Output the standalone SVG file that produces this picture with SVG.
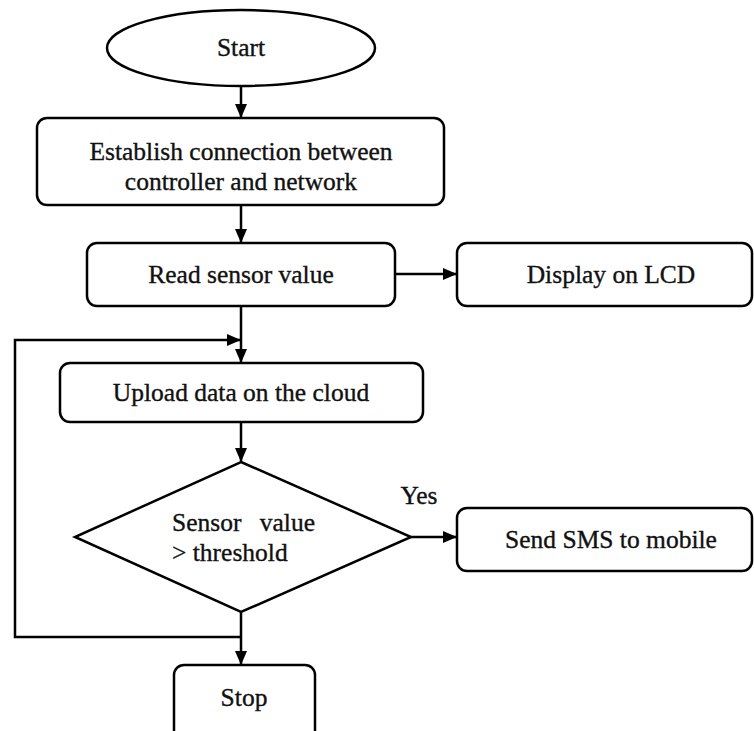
<svg xmlns="http://www.w3.org/2000/svg" width="754" height="731" viewBox="0 0 754 731">
<style>
.s{fill:#fff;stroke:#000;stroke-width:2.5}
.t{font-family:"Liberation Serif","Times New Roman",serif;font-size:25.5px;fill:#111;stroke:#111;stroke-width:0.35;text-anchor:middle}
.l{text-anchor:start}
.c{fill:none;stroke:#000;stroke-width:2.5}
</style>
<defs>
<marker id="a" markerWidth="14" markerHeight="12" refX="13" refY="6" orient="auto" markerUnits="userSpaceOnUse">
<path d="M0,0 L14,6 L0,12 Z" fill="#000"/>
</marker>
</defs>
<rect width="754" height="731" fill="#fff"/>
<g id="connectors">
<path class="c" d="M241,86 V117" marker-end="url(#a)"/>
<path class="c" d="M241,205 V242" marker-end="url(#a)"/>
<path class="c" d="M395,274 H456" marker-end="url(#a)"/>
<path class="c" d="M241,306 V362" marker-end="url(#a)"/>
<path class="c" d="M241,422 V461" marker-end="url(#a)"/>
<path class="c" d="M411,537 H456" marker-end="url(#a)"/>
<path class="c" d="M241,612 V664" marker-end="url(#a)"/>
<path class="c" d="M241,637 H15 V340 H240" marker-end="url(#a)"/>
<text class="t" x="419" y="504">Yes</text>
</g>
<g id="start">
<ellipse class="s" cx="241" cy="48" rx="134" ry="38"/>
<text class="t" x="241" y="56">Start</text>
</g>
<g id="establish">
<rect class="s" x="37" y="118" width="407" height="87" rx="10"/>
<text class="t" x="241" y="160">Establish connection between</text>
<text class="t" x="241" y="190">controller and network</text>
</g>
<g id="read">
<rect class="s" x="87" y="243" width="308" height="63" rx="10"/>
<text class="t" x="241" y="283">Read sensor value</text>
</g>
<g id="display">
<rect class="s" x="457" y="243" width="295" height="63" rx="10"/>
<text class="t" x="611" y="283">Display on LCD</text>
</g>
<g id="upload">
<rect class="s" x="60" y="363" width="363" height="59" rx="10"/>
<text class="t" x="241" y="401">Upload data on the cloud</text>
</g>
<g id="decision">
<polygon class="s" points="241,462 411,537 241,612 75,537"/>
<text class="t l" x="172" y="531">Sensor <tspan dx="12">value</tspan></text>
<text class="t l" x="172" y="561">&gt; threshold</text>
</g>
<g id="sms">
<rect class="s" x="457" y="508" width="295" height="63" rx="10"/>
<text class="t" x="611" y="548">Send SMS to mobile</text>
</g>
<g id="stop">
<rect class="s" x="174" y="665" width="141" height="80" rx="10"/>
<text class="t" x="244" y="706">Stop</text>
</g>
</svg>
